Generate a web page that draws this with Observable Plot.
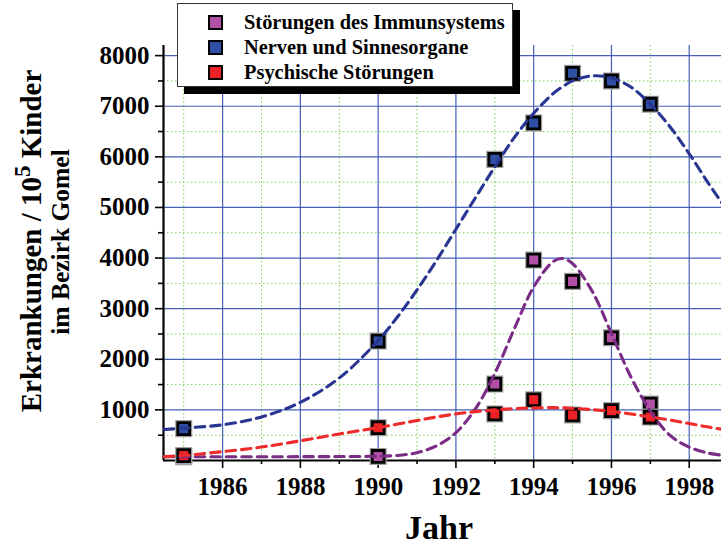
<!DOCTYPE html>
<html><head><meta charset="utf-8">
<script src="https://cdn.jsdelivr.net/npm/d3@7"></script>
<script src="https://cdn.jsdelivr.net/npm/@observablehq/plot@0.6"></script>
<style>
body{margin:0;background:#fff;}
#wrap{position:relative;width:721px;height:546px;overflow:hidden;font-family:"Liberation Serif","Times New Roman",serif;background:#fff;}
#wrap svg{position:absolute;left:0;top:0;}
.legend{position:absolute;left:177px;top:3px;width:336px;height:84px;background:#fff;border:1px solid #333;box-shadow:7px 7px 0 #000;box-sizing:border-box;}
.legend .row{position:absolute;left:0;height:25px;}
.legend .mk{position:absolute;left:30px;top:5px;width:15px;height:15px;box-sizing:border-box;border:2.5px solid #000;}
.legend .tx{position:absolute;left:66px;top:0;height:25px;line-height:25px;white-space:nowrap;font-weight:bold;font-size:20.4px;color:#000;}
</style>
</head><body>
<div id="wrap"></div>
<script>
// ---- data ----
const seriesNames = ["Störungen des Immunsystems", "Nerven und Sinnesorgane", "Psychische Störungen"];
const markerColors = ["#b24fa6", "#2f4fa5", "#ec2227"];
const lineColors = ["#7b2c86", "#283592", "#ee2b2b"];

const pointYears = [1985, 1990, 1993, 1994, 1995, 1996, 1997];
const immunValues = [75, 80, 1510, 3960, 3540, 2425, 1115];
const nervenValues = [630, 2360, 5950, 6670, 7650, 7500, 7040];
const psychValues = [97, 648, 920, 1200, 900, 985, 858];

// fitted curves
const fitYears = [1984.5, 1985, 1986, 1987, 1988, 1989, 1990, 1990.5, 1991, 1991.5, 1992, 1992.5, 1993, 1993.5, 1994, 1994.5, 1994.75, 1995, 1995.5, 1996, 1996.5, 1997, 1997.5, 1998, 1998.5, 1998.85];
const immunFit = [75, 75, 75, 75, 76, 78, 85, 100, 155, 290, 550, 1020, 1720, 2600, 3430, 3930, 3990, 3890, 3350, 2510, 1650, 980, 500, 265, 145, 105];
const nervenFit = [612, 640, 705, 860, 1150, 1630, 2370, 2840, 3370, 3950, 4570, 5190, 5800, 6380, 6860, 7250, 7390, 7500, 7600, 7560, 7380, 7040, 6600, 6060, 5470, 5080];
const psychFit = [75, 100, 175, 265, 390, 525, 650, 720, 790, 860, 920, 965, 1000, 1025, 1040, 1045, 1040, 1030, 1005, 970, 920, 860, 800, 730, 660, 615];

// axes
const xDomain = [1984.48, 1998.83];
const yDomain = [0, 8200];
const xMajor = [1986, 1988, 1990, 1992, 1994, 1996, 1998];
const xMinor = [1985, 1987, 1989, 1991, 1993, 1995, 1997];
const yMajor = [1000, 2000, 3000, 4000, 5000, 6000, 7000, 8000];
const yMinor = [500, 1500, 2500, 3500, 4500, 5500, 6500, 7500];
const xLabel = "Jahr";
const yLabel1a = "Erkrankungen / 10", yLabelSup = "5", yLabel1b = " Kinder";
const yLabel2 = "im Bezirk Gomel";

const font = "Liberation Serif, Times New Roman, serif";
const pointSets = [immunValues, nervenValues, psychValues];
const fitSets = [immunFit, nervenFit, psychFit];
const pts = pointSets.map(vals => pointYears.map((y, i) => ({year: y, value: vals[i]})));
const fits = fitSets.map(vals => fitYears.map((y, i) => ({year: y, value: vals[i]})));

const marks = [
  Plot.gridY(yMinor, {stroke: "#7ccf5a", strokeOpacity: 1, strokeWidth: 1, strokeDasharray: "1.5,2.5"}),
  Plot.gridX(xMinor, {stroke: "#7ccf5a", strokeOpacity: 1, strokeWidth: 1, strokeDasharray: "1.5,2.5"}),
  Plot.gridY(yMajor, {stroke: "#3a56b4", strokeOpacity: 0.95, strokeWidth: 1.2}),
  Plot.gridX(xMajor, {stroke: "#3a56b4", strokeOpacity: 0.95, strokeWidth: 1.2}),
  Plot.axisY(yMajor, {tickSize: 8, tickPadding: 6, strokeWidth: 1.6, stroke: "#000", fill: "#000", fontSize: 25, fontWeight: "bold", fontFamily: font, tickFormat: d => String(d), label: null}),
  Plot.axisY(yMinor, {tickSize: 5, strokeWidth: 1.6, stroke: "#000", tickFormat: () => "", label: null}),
  Plot.axisX(xMajor, {tickSize: 8, tickPadding: 9, strokeWidth: 1.6, stroke: "#000", fill: "#000", fontSize: 25, fontWeight: "bold", fontFamily: font, tickFormat: d => String(d), label: null}),
  Plot.axisX(xMinor, {tickSize: 4, strokeWidth: 1.6, stroke: "#000", tickFormat: () => "", label: null}),
  Plot.ruleY([yDomain[0]], {stroke: "#000", strokeWidth: 2.2}),
  Plot.ruleX([xDomain[0]], {stroke: "#000", strokeWidth: 2.2})
];
pts.forEach((d, i) => {
  marks.push(Plot.dot(d, {x: "year", y: "value", symbol: "square", r: 6.7, fill: "none", stroke: "#a0a0a0", strokeWidth: 5.2}));
  marks.push(Plot.dot(d, {x: "year", y: "value", symbol: "square", r: 6.7, fill: markerColors[i], stroke: "#000", strokeWidth: 2.8}));
});
fits.forEach((d, i) => {
  marks.push(Plot.line(d, {x: "year", y: "value", stroke: lineColors[i], strokeWidth: 3.1, strokeDasharray: "9.5,6", curve: "catmull-rom", clip: true}));
});

const chart = Plot.plot({
  width: 721,
  height: 546,
  marginTop: 45,
  marginBottom: 86,
  marginLeft: 163,
  marginRight: 0,
  x: {domain: xDomain, label: null},
  y: {domain: yDomain, label: null},
  style: {fontFamily: font, fontSize: "25px", fontWeight: "bold", background: "#fff", color: "#000"},
  marks
});

const wrap = document.getElementById("wrap");
wrap.appendChild(chart);

// axis titles
const svg = d3.select(chart);
const g = svg.append("g").attr("font-family", font).attr("font-weight", "bold").attr("fill", "#000");
const t1 = g.append("text").attr("transform", "translate(41,241) rotate(-90)").attr("text-anchor", "middle").attr("font-size", 29);
t1.append("tspan").text(yLabel1a);
t1.append("tspan").attr("dy", -11).attr("font-size", 23).text(yLabelSup);
t1.append("tspan").attr("dy", 11).text(yLabel1b);
g.append("text").attr("transform", "translate(69,242) rotate(-90)").attr("text-anchor", "middle").attr("font-size", 25.5).text(yLabel2);
g.append("text").attr("x", 439).attr("y", 539).attr("text-anchor", "middle").attr("font-size", 34).text(xLabel);

// legend
const lg = document.createElement("div");
lg.className = "legend";
seriesNames.forEach((name, i) => {
  const row = document.createElement("div");
  row.className = "row";
  row.style.top = (6 + i * 25.2) + "px";
  row.style.width = "100%";
  const mk = document.createElement("div");
  mk.className = "mk";
  mk.style.background = markerColors[i];
  const tx = document.createElement("div");
  tx.className = "tx";
  tx.textContent = name;
  row.appendChild(mk); row.appendChild(tx);
  lg.appendChild(row);
});
wrap.appendChild(lg);
</script>
</body></html>
